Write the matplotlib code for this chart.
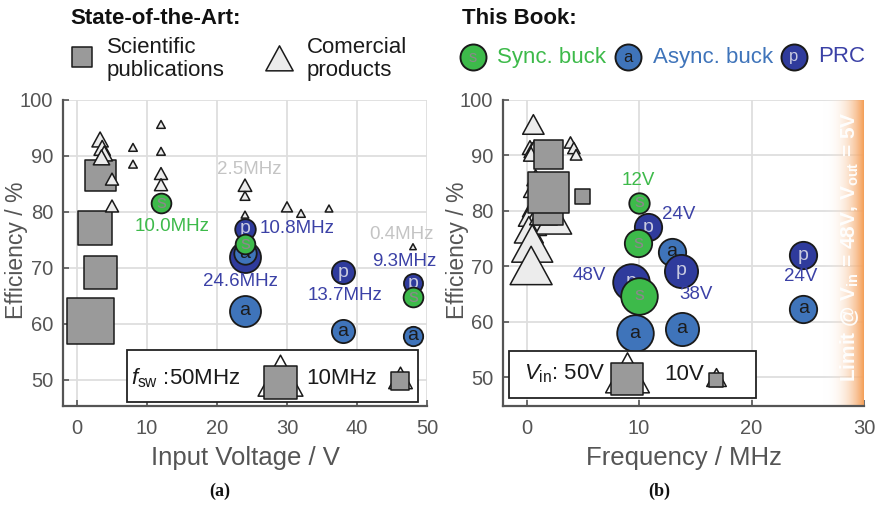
import numpy as np
import matplotlib
matplotlib.use("Agg")
import matplotlib.pyplot as plt
from matplotlib.path import Path
from matplotlib.patches import Rectangle
from matplotlib.colors import LinearSegmentedColormap

plt.rcParams['font.family'] = ['Liberation Sans', 'DejaVu Sans']
plt.rcParams['mathtext.fontset'] = 'custom'
plt.rcParams['mathtext.rm'] = 'Liberation Sans'
plt.rcParams['mathtext.it'] = 'Liberation Sans:italic'
plt.rcParams['mathtext.bf'] = 'Liberation Sans:bold'

W, H, DPI = 878, 515, 100
PT = 72.0 / DPI  # points per pixel

# ---------------- state of the art: efficiency vs. input voltage ----------------
pub_vin = [3.4, 2.6, 3.4, 1.9]
pub_eff = [86.5, 77.1, 69.1, 60.5]
pub_fsw = [43, 54, 50, 120]            # MHz

com_vin = [3.3, 3.6, 3.9, 3.5, 5.0, 5.0, 8.0, 8.0, 12, 12, 12, 12, 24, 24, 24, 30, 32, 36, 48]
com_eff = [92.5, 91.0, 90.0, 89.3, 85.5, 80.7, 91.3, 88.3, 95.4, 90.6, 86.5, 84.5,
           84.4, 82.6, 79.3, 80.6, 79.5, 80.4, 73.6]
com_fsw = [4.0, 4.0, 4.0, 4.0, 2.3, 2.3, 0.8, 0.8, 0.8, 0.8, 2.3, 2.3,
           2.5, 1.1, 0.6, 1.5, 0.8, 0.6, 0.4]

# ---------------- state of the art: efficiency vs. frequency ----------------
pub_freq_b = [1.9, 1.96, 1.96, 5.0]
pub_eff_b = [80.1, 90.1, 83.3, 82.6]
pub_vin_b = [44, 41, 82, 11]           # V

com_freq_b = [0.6, 0.3, 0.5, 0.7, 0.4, 3.9, 4.2, 4.4, 0.8, 0.6, 0.5, 0.3, 0.6, 0.2, 2.4, 1.5, 0.5, 0.4]
com_eff_b = [95.0, 91.0, 90.5, 91.2, 89.8, 92.0, 91.0, 89.8, 85.5, 83.5, 80.0, 78.5, 77.0, 75.8,
             77.8, 79.0, 73.0, 69.0]
com_vin_b = [12, 6, 7, 5, 6, 4, 4, 3.5, 8, 10, 10, 14, 18, 22, 34, 20, 44, 46]

# ---------------- this book ----------------
book_type = ['a', 'p', 's', 'p', 'a', 's', 'p', 'a', 'p', 's', 'a']
book_vin = [24, 24, 12, 24, 24, 24, 38, 38, 48, 48, 48]
book_fsw = [24.6, 24.6, 10.0, 10.8, 12.9, 9.9, 13.7, 13.8, 9.3, 10.0, 9.6]
book_eff = [62.3, 72.0, 81.5, 77.0, 72.6, 74.2, 69.2, 58.7, 67.2, 64.7, 57.9]

# annotations (text, x, y)
fsw_labels = ['10.0MHz', '10.8MHz', '24.6MHz', '13.7MHz', '9.3MHz']
fsw_label_x = [13.6, 31.4, 23.3, 38.3, 46.7]
fsw_label_y = [77.4, 77.0, 67.6, 65.1, 71.2]
fsw_label_c = ['sync', 'prc', 'prc', 'prc', 'prc']
sota_labels = ['2.5MHz', '0.4MHz']
sota_label_x = [24.6, 46.4]
sota_label_y = [87.6, 76.0]

vin_labels = ['12V', '24V', '48V', '38V', '24V']
vin_label_x = [9.9, 13.5, 5.6, 15.1, 24.4]
vin_label_y = [85.4, 79.3, 68.3, 65.0, 68.2]
vin_label_c = ['sync', 'prc', 'prc', 'prc', 'prc']

C_SQ = '#9a9a9a'
C_TRI = '#ececec'
C_EDGE = '#1a1a1a'
C_SYNC = '#3dba4a'
C_ASYNC = '#3f74ba'
C_PRC = '#2f3b9c'
C_TXT_PRC = '#3b41a6'
C_GREYLBL = '#c4c4c4'
C_AX = '#555555'
TXT = {'sync': C_SYNC, 'prc': C_TXT_PRC}
STYLE = {'s': (C_SYNC, '#8a8a8a'), 'a': (C_ASYNC, '#1c1c1c'), 'p': (C_PRC, '#c8cae0')}

TRI = Path([(0, 1), (-0.82, -0.5), (0.82, -0.5), (0, 1)],
           [Path.MOVETO, Path.LINETO, Path.LINETO, Path.CLOSEPOLY])


def s_px(px):
    return (np.asarray(px, float) * PT) ** 2


def s_tri(h_px):
    return (np.asarray(h_px, float) * PT / 0.75) ** 2


# pixel sizes from the encoded quantity
def sq_f(f):
    return 33 * (np.asarray(f, float) / 50) ** 0.4


def tri_f(f):
    return 41 * (np.asarray(f, float) / 50) ** 0.4


def circ_f(f):
    return 6.25 * np.sqrt(np.asarray(f, float))


def sq_v(v):
    return 32 * np.sqrt(np.asarray(v, float) / 50)


def tri_v(v):
    return 40 * np.sqrt(np.asarray(v, float) / 50)


def circ_v(v):
    return 7.2 * np.asarray(v, float) ** 0.42


fig = plt.figure(figsize=(W / DPI, H / DPI), dpi=DPI)


def style_axes(ax, xticks, xlim, ylim, xlabel, ylabel_x):
    ax.set_xlim(*xlim)
    ax.set_ylim(*ylim)
    ax.set_xticks(xticks)
    ax.set_yticks([50, 60, 70, 80, 90, 100])
    ax.grid(True, color='#dedede', lw=1.3, zorder=0)
    ax.set_axisbelow(True)
    for sp in ['top', 'right']:
        ax.spines[sp].set_visible(False)
    for sp in ['left', 'bottom']:
        ax.spines[sp].set_color(C_AX)
        ax.spines[sp].set_linewidth(1.6)
    ax.tick_params(direction='in', length=4, width=1.2, color=C_AX,
                   labelcolor=C_AX, labelsize=14.5)
    ax.tick_params(axis='x', pad=9)
    ax.tick_params(axis='y', pad=7)
    ax.set_xlabel(xlabel, fontsize=18.5, color=C_AX, labelpad=6)
    ax.set_ylabel('Efficiency / %', fontsize=16.5, color=C_AX, va='center')
    ax.yaxis.set_label_coords(ylabel_x, 0.51)


def draw_book(ax, xs, sizes):
    for t, x, y, d in zip(book_type, xs, book_eff, sizes):
        fc, tc = STYLE[t]
        ax.scatter([x], [y], s=s_px(d), marker='o', facecolor=fc, edgecolor=C_EDGE,
                   linewidth=1.3, zorder=5, clip_on=False)
        ax.text(x, y, t, ha='center', va='center', fontsize=14, color=tc, zorder=5)


# ---------------- (a) efficiency vs. input voltage ----------------
axL = fig.add_axes([63 / W, 1 - 406 / H, (427 - 63) / W, 306 / H])
style_axes(axL, [0, 10, 20, 30, 40, 50], (-2, 50), (45.3, 100), 'Input Voltage / V', -0.129)
axL.scatter(pub_vin, pub_eff, s=s_px(sq_f(pub_fsw)), marker='s', facecolor=C_SQ,
            edgecolor=C_EDGE, linewidth=1.1, zorder=2, clip_on=False)
axL.scatter(com_vin, com_eff, s=s_tri(tri_f(com_fsw)), marker=TRI, facecolor=C_TRI,
            edgecolor=C_EDGE, linewidth=1.1, zorder=3, clip_on=False)
draw_book(axL, book_vin, circ_f(book_fsw))
for t, x, y, c in zip(fsw_labels, fsw_label_x, fsw_label_y, fsw_label_c):
    axL.text(x, y, t, ha='center', va='center', fontsize=13.5, color=TXT[c], zorder=6)
for t, x, y in zip(sota_labels, sota_label_x, sota_label_y):
    axL.text(x, y, t, ha='center', va='center', fontsize=13.5, color=C_GREYLBL, zorder=6)

# ---------------- (b) efficiency vs. frequency ----------------
axR = fig.add_axes([503 / W, 1 - 406 / H, (864 - 503) / W, 306 / H])
grad = np.linspace(0, 1, 256)[None, :] ** 1.3
band = LinearSegmentedColormap.from_list('band', [(1, 1, 1, 0), (0.96, 0.62, 0.34, 1)])
axR.imshow(grad, extent=[26.3, 30, 44.8, 100], aspect='auto', cmap=band,
           interpolation='bilinear', zorder=1)
style_axes(axR, [0, 10, 20, 30], (-2.1, 30), (44.8, 100), 'Frequency / MHz', -0.125)
axR.scatter(com_freq_b, com_eff_b, s=s_tri(tri_v(com_vin_b)), marker=TRI, facecolor=C_TRI,
            edgecolor=C_EDGE, linewidth=1.1, zorder=2, clip_on=False)
axR.scatter(pub_freq_b, pub_eff_b, s=s_px(sq_v(pub_vin_b)), marker='s', facecolor=C_SQ,
            edgecolor=C_EDGE, linewidth=1.1, zorder=3, clip_on=False)
draw_book(axR, book_fsw, circ_v(book_vin))
for t, x, y, c in zip(vin_labels, vin_label_x, vin_label_y, vin_label_c):
    axR.text(x, y, t, ha='center', va='center', fontsize=13.5, color=TXT[c], zorder=6)
axR.text(28.75, 73.5, r'Limit @ $\mathbf{V}_{\mathbf{in}}$ = 48V, $\mathbf{V}_{\mathbf{out}}$ = 5V',
         rotation=90, ha='center', va='center', fontsize=15, fontweight='bold',
         color='white', alpha=0.95, zorder=4)

# ---------------- headers, legends and panel tags (pixel overlay) ----------------
ov = fig.add_axes([0, 0, 1, 1], zorder=10)
ov.set_xlim(0, W)
ov.set_ylim(H, 0)
ov.axis('off')
ov.patch.set_alpha(0)

ov.text(70, 18, 'State-of-the-Art:', fontsize=16, fontweight='bold', color='#111111',
        ha='left', va='center')
ov.scatter([82], [57], s=s_px(20), marker='s', facecolor=C_SQ, edgecolor=C_EDGE, linewidth=1.1)
ov.text(107, 59, 'Scientific\npublications', fontsize=16, color='#1a1a1a', ha='left',
        va='center', linespacing=1.15)
ov.scatter([279], [62], s=s_tri(25), marker=TRI, facecolor=C_TRI, edgecolor=C_EDGE, linewidth=1.1)
ov.text(307, 59, 'Comercial\nproducts', fontsize=16, color='#1a1a1a', ha='left',
        va='center', linespacing=1.15)

ov.text(462, 18, 'This Book:', fontsize=16, fontweight='bold', color='#111111',
        ha='left', va='center')
for cx, key, label, tx, tcol in [(473, 's', 'Sync. buck', 497, C_SYNC),
                                 (628, 'a', 'Async. buck', 653, C_ASYNC),
                                 (794, 'p', 'PRC', 818, C_TXT_PRC)]:
    fc, lc = STYLE[key]
    ov.scatter([cx], [57], s=s_px(26), marker='o', facecolor=fc, edgecolor=C_EDGE, linewidth=1.4)
    ov.text(cx, 57, key, fontsize=12, color=lc, ha='center', va='center')
    ov.text(tx, 57, label, fontsize=16, color=tcol, ha='left', va='center')

# size legend, left panel
ov.add_patch(Rectangle((127, 350), 291, 52, facecolor='white', edgecolor='#222222', lw=1.3))
ov.text(131, 378, r'$f_{\mathrm{sw}}$ :50MHz', fontsize=16, color='#1a1a1a', ha='left', va='center')
ov.scatter([280], [382], s=s_tri(tri_f(50)), marker=TRI, facecolor='white', edgecolor=C_EDGE, linewidth=1.1)
ov.scatter([280], [382], s=s_px(sq_f(50)), marker='s', facecolor=C_SQ, edgecolor=C_EDGE, linewidth=1.1)
ov.text(306, 378, '10MHz', fontsize=16, color='#1a1a1a', ha='left', va='center')
ov.scatter([400], [381], s=s_tri(tri_f(10)), marker=TRI, facecolor='white', edgecolor=C_EDGE, linewidth=1.1)
ov.scatter([400], [381], s=s_px(sq_f(10)), marker='s', facecolor=C_SQ, edgecolor=C_EDGE, linewidth=1.1)

# size legend, right panel
ov.add_patch(Rectangle((509, 351), 247, 47, facecolor='white', edgecolor='#222222', lw=1.3))
ov.text(524, 374, r'$V_{\mathrm{in}}$: 50V', fontsize=16, color='#1a1a1a', ha='left', va='center')
ov.scatter([627], [379], s=s_tri(tri_v(50)), marker=TRI, facecolor='white', edgecolor=C_EDGE, linewidth=1.1)
ov.scatter([627], [379], s=s_px(sq_v(50)), marker='s', facecolor=C_SQ, edgecolor=C_EDGE, linewidth=1.1)
ov.text(664, 374, '10V', fontsize=16, color='#1a1a1a', ha='left', va='center')
ov.scatter([716], [380], s=s_tri(tri_v(10)), marker=TRI, facecolor='white', edgecolor=C_EDGE, linewidth=1.1)
ov.scatter([716], [380], s=s_px(sq_v(10)), marker='s', facecolor=C_SQ, edgecolor=C_EDGE, linewidth=1.1)

ov.text(220, 491, '(a)', fontsize=13, fontweight='bold', family='Liberation Serif',
        ha='center', va='center', color='#111111')
ov.text(659, 491, '(b)', fontsize=13, fontweight='bold', family='Liberation Serif',
        ha='center', va='center', color='#111111')

fig.savefig('out.png', dpi=DPI)
